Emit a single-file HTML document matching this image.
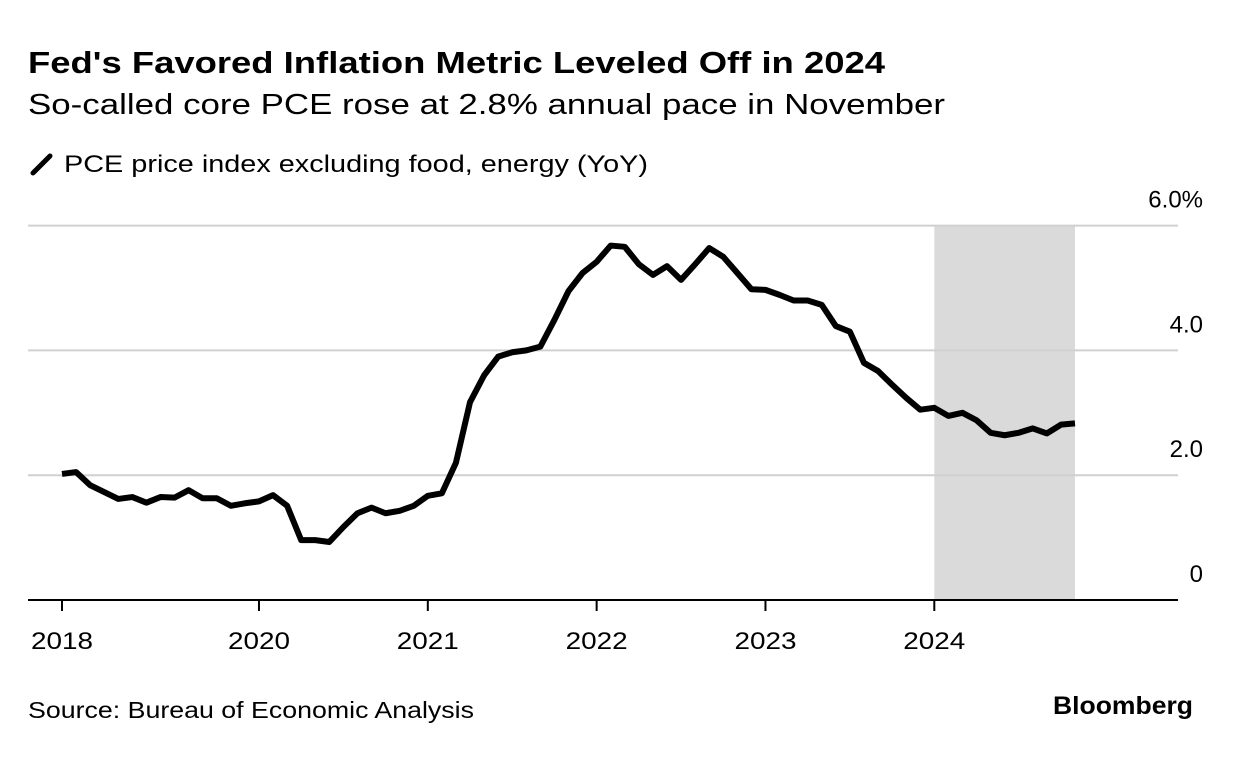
<!DOCTYPE html>
<html><head><meta charset="utf-8"><style>
body{margin:0;width:1233px;height:766px;background:#fff;overflow:hidden;font-family:"Liberation Sans",sans-serif;color:#000}
</style></head><body>
<svg width="1233" height="766" xmlns="http://www.w3.org/2000/svg" font-family="Liberation Sans, sans-serif">
<text x="28" y="73" font-size="31" font-weight="bold" textLength="857" lengthAdjust="spacingAndGlyphs">Fed's Favored Inflation Metric Leveled Off in 2024</text>
<text x="28" y="114" font-size="29" textLength="917" lengthAdjust="spacingAndGlyphs">So-called core PCE rose at 2.8% annual pace in November</text>
<g>
<line x1="33" y1="173" x2="50" y2="156" stroke="#000" stroke-width="5" stroke-linecap="round"/>
<text x="64" y="172" font-size="24" textLength="584" lengthAdjust="spacingAndGlyphs">PCE price index excluding food, energy (YoY)</text>
</g>
<g id="plot"></g>
<text x="28" y="718" font-size="23" textLength="446" lengthAdjust="spacingAndGlyphs">Source: Bureau of Economic Analysis</text>
<text x="1193" y="714" font-size="25" font-weight="bold" text-anchor="end" textLength="140" lengthAdjust="spacingAndGlyphs">Bloomberg</text>
</svg>
<script>
const values=[2.02,2.05,1.84,1.73,1.62,1.65,1.56,1.65,1.64,1.76,1.63,1.63,1.51,1.55,1.58,1.68,1.51,0.96,0.96,0.93,1.17,1.39,1.48,1.39,1.43,1.51,1.67,1.71,2.2,3.17,3.6,3.9,3.97,4.0,4.06,4.49,4.95,5.24,5.42,5.68,5.66,5.38,5.21,5.35,5.13,5.38,5.64,5.5,5.24,4.98,4.97,4.89,4.8,4.8,4.73,4.39,4.3,3.8,3.67,3.45,3.24,3.05,3.08,2.95,3.0,2.88,2.68,2.64,2.68,2.75,2.67,2.81,2.83];
const yTicks=[0,2,4,6];
const yTickLabels=["0","2.0","4.0","6.0%"];
const xLabels=["2018","2020","2021","2022","2023","2024"];
const xLabelIdx=[0,14,26,38,50,62];
const shadeStart=62, shadeEnd=72;
const NS="http://www.w3.org/2000/svg";
const g=document.getElementById('plot');
const xS=i=>62+i*(1075-62)/72;
const yS=v=>600-v*62.4;
function mk(t,a){const e=document.createElementNS(NS,t);for(const k in a)e.setAttribute(k,a[k]);g.appendChild(e);return e;}
let r=mk('rect',{x:xS(shadeStart),y:yS(6),width:xS(shadeEnd)-xS(shadeStart),height:yS(0)-yS(6),fill:'#dadada'});


yTicks.forEach((t,k)=>{
 if(t>0){const l=mk('line',{x1:28,x2:1178,y1:yS(t),y2:yS(t),stroke:'#d0d0d0','stroke-width':2});
 
 }
 const tx=mk('text',{x:1203,y:yS(t)-18,'font-size':24,'text-anchor':'end'});tx.textContent=yTickLabels[k];
 
 
});
const ax=mk('line',{x1:28,x2:1178,y1:600,y2:600,stroke:'#000','stroke-width':2});


xLabels.forEach((lb,k)=>{
 const x=xS(xLabelIdx[k]);
 const t=mk('line',{x1:x,x2:x,y1:600,y2:611,stroke:'#000','stroke-width':2});
 
 
 const tx=mk('text',{x:x,y:649,'font-size':24,'text-anchor':'middle',textLength:62,lengthAdjust:'spacingAndGlyphs'});tx.textContent=lb;
 
 
});
const p=mk('polyline',{points:values.map((v,i)=>xS(i)+','+yS(v)).join(' '),fill:'none',stroke:'#000','stroke-width':6,'stroke-linejoin':'round'});


</script>
</body></html>
